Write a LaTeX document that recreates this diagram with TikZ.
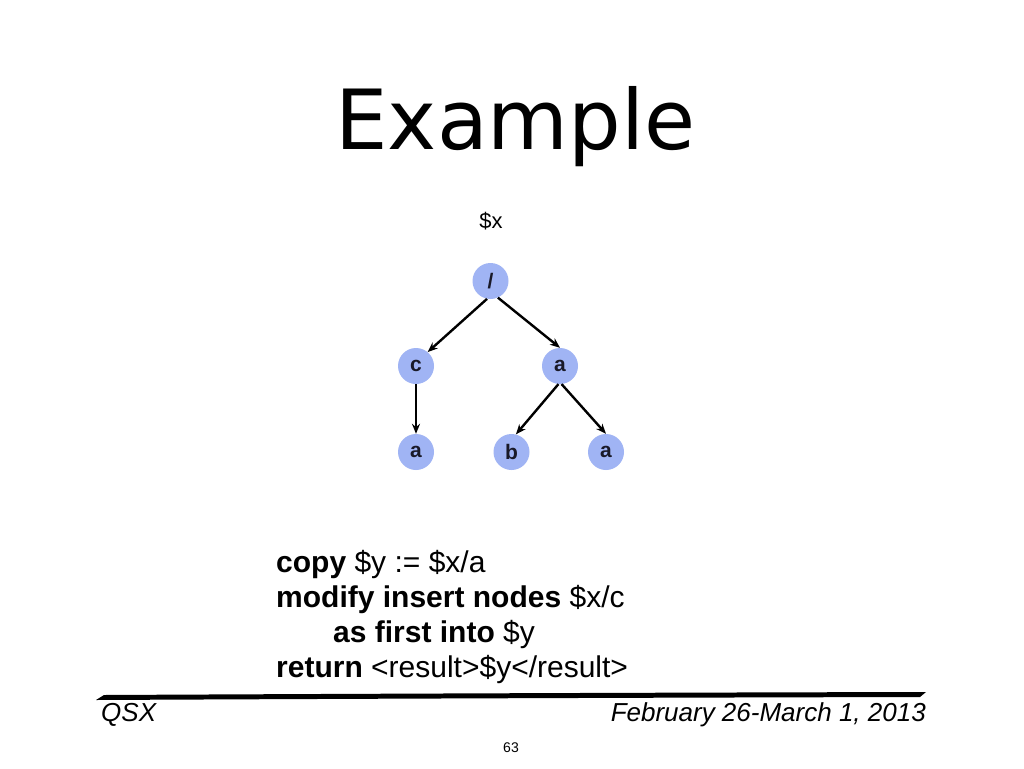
\documentclass[tikz,border=0pt]{standalone}
\usepackage{fontspec}
\setmainfont{Liberation Sans}
\newfontfamily\titlefont{DejaVu Sans}
\usetikzlibrary{arrows.meta}
\definecolor{nodeblue}{RGB}{160,180,244}
\definecolor{nodetext}{RGB}{25,25,40}
\tikzset{
  tnode/.style={circle, fill=nodeblue, minimum size=36pt, inner sep=0pt,
    font=\fontsize{21}{24}\selectfont\bfseries, text=nodetext},
  edge/.style={line width=2.4pt, -{Stealth[length=10pt,width=8pt]}},
  codeline/.style={anchor=base west, inner sep=0pt, font=\fontsize{30}{35}\selectfont},
}
\begin{document}
\begin{tikzpicture}[x=1pt,y=-1pt]
\useasboundingbox (0,0) rectangle (1024,768);
\fill[white] (0,0) rectangle (1024,768);

\node[anchor=base, inner sep=0pt, font=\titlefont\fontsize{83}{90}\selectfont] (title) at (515.5,149) {Example};
\node[anchor=base, inner sep=0pt, font=\fontsize{22}{26}\selectfont] (xvar) at (491,228) {\$x};

\node[tnode] (root) at (490.5,281) {/};
\node[tnode] (c) at (416,366) {c};
\node[tnode] (a1) at (560,366) {a};
\node[tnode] (a2) at (416,452) {a};
\node[tnode] (b) at (511.5,452) {b};
\node[tnode] (a3) at (606,452) {a};

\draw[edge] (root.259) -- (c.50);
\draw[edge] (root.294) -- (a1.90);
\draw[edge] (c.south) -- (a2.north);
\draw[edge] (a1.265) -- (b.76);
\draw[edge] (a1.275) -- (a3.90);

\node[codeline] (l1) at (276,572) {\textbf{copy} \$y := \$x/a};
\node[codeline] (l2) at (276,607) {\textbf{modify insert nodes} \$x/c};
\node[codeline] (l3) at (333,642) {\textbf{as first into} \$y};
\node[codeline] (l4) at (276,677) {\textbf{return} <result>\$y</result>};

\fill[black] (96,700) -- (104,695) .. controls (400,693.5) and (700,692.5) .. (926,692)
  -- (920,697) .. controls (700,697.5) and (400,698.5) .. cycle;

\node[anchor=base west, inner sep=0pt, font=\fontsize{26}{30}\selectfont\itshape] (qsx) at (101,721) {QSX};
\node[anchor=base east, inner sep=0pt, font=\fontsize{26}{30}\selectfont\itshape] (date) at (926,721) {February 26-March 1, 2013};
\node[anchor=base, inner sep=0pt, font=\fontsize{14}{16}\selectfont] (page) at (511,752) {63};
\end{tikzpicture}
\end{document}
